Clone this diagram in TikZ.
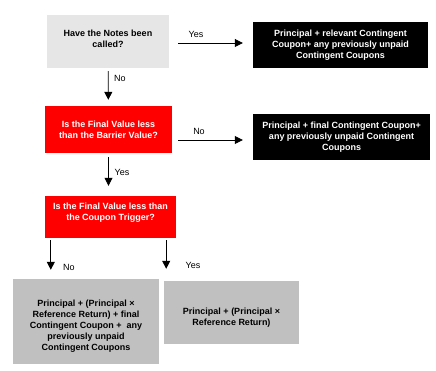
\documentclass[tikz,border=0pt]{standalone}
\usepackage{fontspec}
\setmainfont{Liberation Sans}
\usetikzlibrary{arrows.meta}

\definecolor{callgray}{HTML}{E6E6E6}
\definecolor{paygray}{HTML}{C0C0C0}
\definecolor{testred}{HTML}{FF0000}

\begin{document}
\begin{tikzpicture}[x=1pt, y=-1pt,
  box/.style={align=center, inner sep=2pt, font=\fontsize{9}{10.8}\selectfont\bfseries},
  flow/.style={-{Triangle[length=8pt, width=8pt]}, line width=0.8pt},
  answer/.style={font=\fontsize{9}{10}\selectfont}]

\useasboundingbox (0,0) rectangle (436,371);

% Questions
\node[box, fill=callgray, minimum width=122pt, minimum height=53pt] (called) at (108,41.5)
  {Have the Notes been\\called?\rule[-5pt]{0pt}{5pt}};
\node[box, fill=testred, text=white, minimum width=127pt, minimum height=47pt] (barrier) at (108.5,129.5)
  {Is the Final Value less\\than the Barrier Value?};
\node[box, fill=testred, text=white, minimum width=131pt, minimum height=42pt] (trigger) at (110.5,217)
  {Is the Final Value less than\\the Coupon Trigger?\\~};

% Payouts
\node[box, fill=black, text=white, minimum width=175pt, minimum height=46pt] (paycall) at (340.5,45)
  {Principal + relevant Contingent\\Coupon+ any previously unpaid\\Contingent Coupons};
\node[box, fill=black, text=white, minimum width=177pt, minimum height=46pt] (payfinal) at (341.5,137)
  {Principal + final Contingent Coupon+\\any previously unpaid Contingent\\Coupons};
\node[box, fill=paygray, minimum width=146pt, minimum height=85pt] (payabove) at (86,321.5)
  {\rule{0pt}{16pt}Principal + (Principal ×\\Reference Return) + final\\Contingent Coupon +~ any\\previously unpaid\\Contingent Coupons};
\node[box, fill=paygray, minimum width=135pt, minimum height=63pt] (paybelow) at (231.5,312.5)
  {\rule{0pt}{17pt}Principal + (Principal ×\\Reference Return)};

% Arrows
\draw[flow, shorten <=9pt, shorten >=10pt] ([yshift=-1.5pt]called.east) -- ([yshift=-1.5pt]called.east -| paycall.west);
\draw[flow, shorten <=3pt, shorten >=6pt] (called) -- (barrier);
\draw[flow, shorten <=6pt, shorten >=10pt] ([yshift=-10.5pt]barrier.east) -- ([yshift=-10.5pt]barrier.east -| payfinal.west);
\draw[flow, shorten <=4pt, shorten >=10pt] (barrier.south) -- (barrier.south |- trigger.north);
\draw[flow, shorten <=2pt, shorten >=9pt] ([xshift=6pt]trigger.south west) -- ([xshift=6pt]trigger.south west |- payabove.north);
\draw[flow, shorten <=2pt, shorten >=12pt] ([xshift=-10pt]trigger.south east) -- ([xshift=-10pt]trigger.south east |- paybelow.north);

% Labels
\node[answer] (yescall) at (196,34) {Yes};
\node[answer] (nocall) at (120,78) {No};
\node[answer] (nobarrier) at (199,131) {No};
\node[answer] (yesbarrier) at (122,172) {Yes};
\node[answer] (notrigger) at (69,267) {No};
\node[answer] (yestrigger) at (193,265) {Yes};

\end{tikzpicture}
\end{document}
